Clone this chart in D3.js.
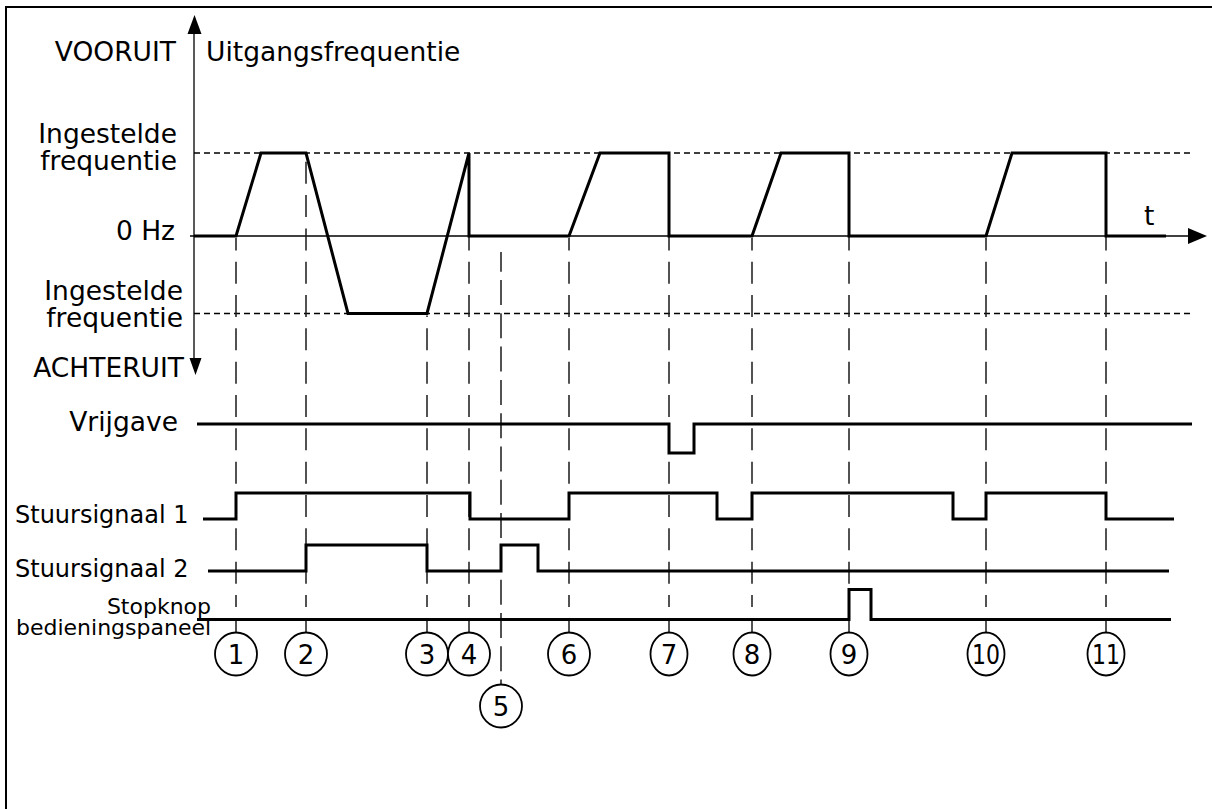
<!DOCTYPE html>
<html>
<head>
<meta charset="utf-8">
<script src="https://cdn.jsdelivr.net/npm/d3@7/dist/d3.min.js"></script>
<style>
  html, body { margin: 0; padding: 0; background: #fff; }
  svg { display: block; font-family: "DejaVu Sans", Verdana, sans-serif; }
</style>
</head>
<body>
<svg id="chart" width="1212" height="809"></svg>
<script>
// Time (arbitrary units) of the numbered events
const eventTimes  = [0.42, 1.12, 2.33, 2.75, 3.07, 3.75, 4.75, 5.58, 6.55, 7.92, 9.12];
const eventLabels = ["1", "2", "3", "4", "5", "6", "7", "8", "9", "10", "11"];

// Output frequency: +1 = set frequency forward, -1 = set frequency reverse
const freqTimes  = [0, 0.42, 0.67, 1.12, 1.54, 2.33, 2.75, 2.75, 3.75, 4.06, 4.75, 4.75, 5.58, 5.87, 6.55, 6.55, 7.92, 8.18, 9.12, 9.12, 9.72];
const freqValues = [0, 0,    1,    1,    -1,   -1,   1,    0,    0,    1,    1,    0,    0,    1,    1,    0,    0,    1,    1,    0,    0];

// Digital signals (step after each time)
const enableTimes  = [0.03, 4.75, 5.00, 9.98];
const enableValues = [1, 0, 1, 1];
const ctrl1Times   = [0.09, 0.42, 2.76, 3.75, 5.23, 5.58, 7.59, 7.92, 9.12, 9.80];
const ctrl1Values  = [0, 1, 0, 1, 0, 1, 0, 1, 0, 0];
const ctrl2Times   = [0.14, 1.12, 2.33, 3.07, 3.44, 9.75];
const ctrl2Values  = [0, 1, 0, 1, 0, 0];
const stopTimes    = [0.03, 6.55, 6.77, 9.77];
const stopValues   = [0, 1, 0, 0];

const svg = d3.select("#chart");
const W = 1212, H = 809;

const x = d3.scaleLinear().domain([0, 10]).range([194, 1194]);
const yF = d3.scaleLinear().domain([-1, 0, 1]).range([313.5, 236, 153]);

const ink = "#000";

// frame
svg.append("path")
  .attr("d", `M6,${H} V7 H${W}`)
  .attr("fill", "none").attr("stroke", ink).attr("stroke-width", 2);

// set-frequency reference lines
[1, -1].forEach(v => {
  svg.append("line")
    .attr("x1", x(0)).attr("x2", 1190)
    .attr("y1", yF(v)).attr("y2", yF(v))
    .attr("stroke", ink).attr("stroke-width", 1.3)
    .attr("stroke-dasharray", "6,4");
});

// vertical frequency axis with arrows
svg.append("line")
  .attr("x1", x(0)).attr("x2", x(0))
  .attr("y1", 30).attr("y2", 362)
  .attr("stroke", ink).attr("stroke-width", 1.3);
svg.append("path").attr("d", "M194.5,15 L187.5,34 L201.5,34 Z").attr("fill", ink);
svg.append("path").attr("d", "M195.5,375 L189.5,358 L201.5,358 Z").attr("fill", ink);

// time axis
svg.append("line")
  .attr("x1", 190).attr("x2", 1192)
  .attr("y1", yF(0)).attr("y2", yF(0))
  .attr("stroke", ink).attr("stroke-width", 1.3);
svg.append("path").attr("d", `M1207,${yF(0)} L1188,${yF(0) - 8} L1188,${yF(0) + 8} Z`).attr("fill", ink);

// event guide lines
const period = 33.33, phase0 = 361.7;
eventTimes.forEach((t, i) => {
  const idx = freqTimes.findIndex(ft => ft >= t);
  const v = freqValues[idx];
  const special = i === 4;
  const y0 = special ? 252 : yF(v) + 2;
  const y1 = special ? 685 : 607;
  const dash = special ? "25,8.3" : "22,11.33";
  const off = ((y0 - (special ? 346.7 : phase0)) % period + period) % period;
  svg.append("line")
    .attr("x1", x(t)).attr("x2", x(t))
    .attr("y1", y0).attr("y2", y1)
    .attr("stroke", "#1a1a1a").attr("stroke-width", 1.5)
    .attr("stroke-dasharray", dash)
    .attr("stroke-dashoffset", off);
  if (!special) {
    svg.append("line")
      .attr("x1", x(t)).attr("x2", x(t))
      .attr("y1", 621).attr("y2", 633)
      .attr("stroke", "#1a1a1a").attr("stroke-width", 1.5);
  }
});

// output frequency curve
const freqLine = d3.line().x(d => x(d[0])).y(d => yF(d[1]));
svg.append("path")
  .attr("d", freqLine(d3.zip(freqTimes, freqValues)))
  .attr("fill", "none").attr("stroke", ink).attr("stroke-width", 3)
  .attr("stroke-linejoin", "miter");

// digital signals
const rows = [
  { times: enableTimes, values: enableValues, low: 453, amp: 29 },
  { times: ctrl1Times,  values: ctrl1Values,  low: 519, amp: 26 },
  { times: ctrl2Times,  values: ctrl2Values,  low: 571, amp: 26 },
  { times: stopTimes,   values: stopValues,   low: 619.5, amp: 30 }
];
rows.forEach(r => {
  const yS = d3.scaleLinear().domain([0, 1]).range([r.low, r.low - r.amp]);
  const line = d3.line().x(d => x(d[0])).y(d => yS(d[1])).curve(d3.curveStepAfter);
  svg.append("path")
    .attr("d", line(d3.zip(r.times, r.values)))
    .attr("fill", "none").attr("stroke", ink).attr("stroke-width", 3);
});

// event markers
eventTimes.forEach((t, i) => {
  const special = i === 4;
  const cy = special ? 706 : 654;
  const wide = i < 6;
  svg.append("ellipse")
    .attr("cx", x(t)).attr("cy", cy)
    .attr("rx", wide ? 21 : 18.5).attr("ry", 21.5)
    .attr("fill", "#fff").attr("stroke", ink).attr("stroke-width", 1.8);
  const txt = svg.append("text")
    .attr("x", x(t)).attr("y", cy + 9.5)
    .attr("text-anchor", "middle")
    .attr("font-size", 26)
    .text(eventLabels[i]);
  if (eventLabels[i].length > 1) {
    txt.attr("textLength", 28).attr("lengthAdjust", "spacingAndGlyphs");
  }
});

// labels
const big = 26.5;
function label(text, xPos, yPos, size, anchor) {
  svg.append("text")
    .attr("x", xPos).attr("y", yPos)
    .attr("font-size", size)
    .attr("text-anchor", anchor)
    .attr("fill", ink)
    .text(text);
}
label("VOORUIT", 176, 61, big, "end");
label("Uitgangsfrequentie", 206, 61, big, "start");
label("Ingestelde", 177, 143, big, "end");
label("frequentie", 177, 170, big, "end");
label("0 Hz", 175, 240, big, "end");
label("Ingestelde", 183, 300, big, "end");
label("frequentie", 183, 327, big, "end");
label("ACHTERUIT", 184, 377, big, "end");
label("t", 1144, 225, big, "start");
label("Vrijgave", 178, 431, big, "end");
label("Stuursignaal 1", 15, 523, 24, "start");
label("Stuursignaal 2", 15, 577, 24, "start");
label("Stopknop", 211, 614, 22, "end");
label("bedieningspaneel", 16, 635, 22, "start");
</script>
</body>
</html>
